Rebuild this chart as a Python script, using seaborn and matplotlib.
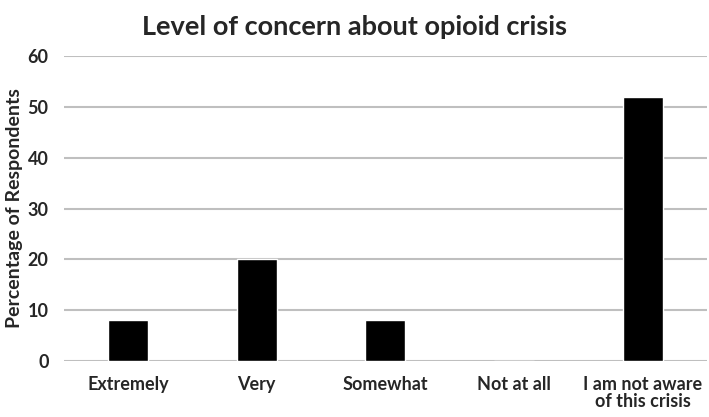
import matplotlib
matplotlib.use("Agg")
import matplotlib.pyplot as plt
import pandas as pd
import seaborn as sns

categories = ["Extremely", "Very", "Somewhat", "Not at all", "I am not aware\nof this crisis"]
percentages = [8, 20, 8, 0, 52]

sns.set_theme(style="white")
plt.rcParams["font.family"] = ["Lato", "DejaVu Sans"]
plt.rcParams["font.weight"] = "bold"

df = pd.DataFrame({"concern": categories, "pct": percentages})

fig = plt.figure(figsize=(7.09, 4.17), dpi=100)
ax = fig.add_axes([0.09, 0.134, 0.907, 0.732])

sns.barplot(data=df, x="concern", y="pct", color="black", width=0.31,
            saturation=1, ax=ax, zorder=3)

ax.set_ylim(0, 60)
ax.set_yticks(range(0, 61, 10))
ax.yaxis.grid(True, color="#BFBFBF", linewidth=1.5, zorder=0)
ax.set_axisbelow(True)
for s in ["top", "right", "left", "bottom"]:
    ax.spines[s].set_visible(False)
ax.tick_params(axis="both", length=0, labelsize=13, colors="#262626")
ax.tick_params(axis="x", pad=11)
ax.tick_params(axis="y", pad=11)
for lbl in ax.get_xticklabels() + ax.get_yticklabels():
    lbl.set_fontweight("bold")
for lbl in ax.get_xticklabels():
    lbl.set_linespacing(1.0)

ax.set_xlabel("")
ax.set_ylabel("Percentage of Respondents", fontsize=14, fontweight="bold",
              color="#262626", labelpad=3)
fig.suptitle("Level of concern about opioid crisis", fontsize=19.5,
             fontweight="bold", color="#262626", y=0.965)

fig.savefig("out.png", dpi=100)
